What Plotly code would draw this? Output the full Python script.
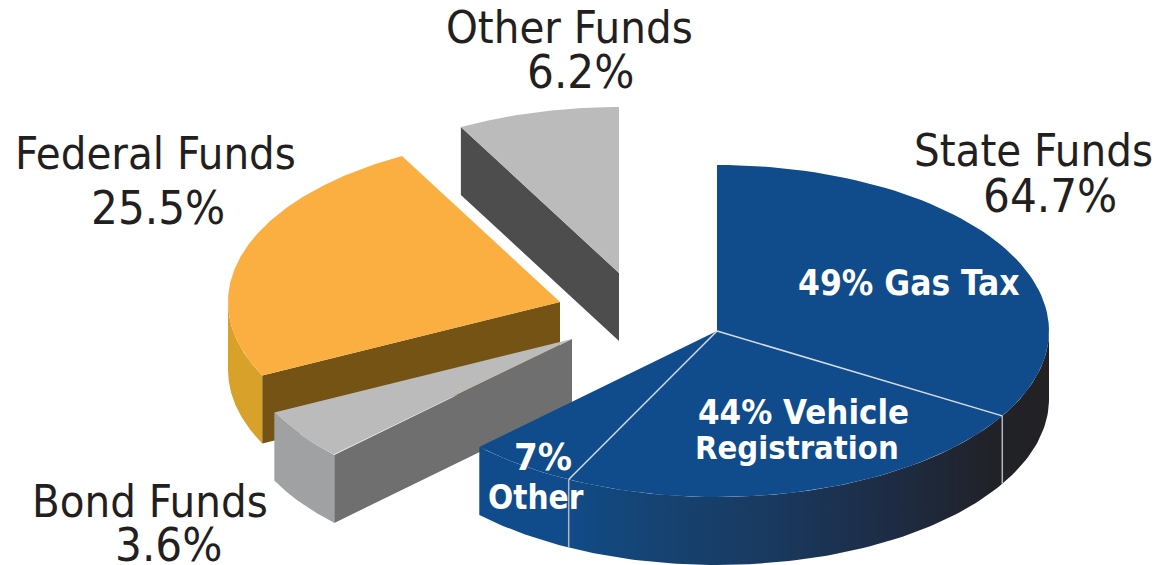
import numpy as np
import plotly.graph_objects as go

# ---- data ----
categories = ["State Funds", "Bond Funds", "Federal Funds", "Other Funds"]
printed_pct = [64.7, 3.6, 25.5, 6.2]          # percentages printed next to the slices
drawn_pct = [62.7, 5.0, 24.4, 7.9]            # share of the circle each slice visibly covers
state_parts = ["Gas Tax", "Vehicle Registration", "Other"]
state_printed = [49, 44, 7]                   # printed inside the State slice
state_drawn = [53.5, 38.0, 8.5]               # share of the State slice each part visibly covers

# ---- styling / layout ----
W, H = 1169, 565
CX, CY, RX, RY, DEPTH = 717, 331, 332, 166, 68
PULL = {"State Funds": (0, 0), "Bond Funds": (-145, 8),
        "Federal Funds": (-157, -29), "Other Funds": (-98, -58)}
FACE = {"State Funds": "#104C8B", "Bond Funds": "#BBBBBB",
        "Federal Funds": "#FAAF40", "Other Funds": "#BBBBBB"}
OUTER = {"Bond Funds": "#A0A1A3", "Federal Funds": "#D8A129"}
INNER = {"Bond Funds": "#6F6F6F", "Federal Funds": "#745315", "Other Funds": "#4D4D4D"}
TEXT = "#231F20"
FONT = "DejaVu Sans Condensed"


def pt(deg, pull=(0, 0), drop=0):
    a = np.radians(deg)
    return CX + pull[0] + RX * np.cos(a), CY + pull[1] - RY * np.sin(a) + drop


def arc(a0, a1, pull=(0, 0), drop=0):
    return pt(np.linspace(a0, a1, 120), pull, drop)


def polygon(xs, ys, color=None, gradient=None):
    kw = dict(fillgradient=gradient) if gradient else dict(fillcolor=color)
    return go.Scatter(x=xs, y=ys, mode="lines", fill="toself", line=dict(width=0),
                      hoverinfo="skip", showlegend=False, **kw)


def segment(p, q, color, width):
    return go.Scatter(x=[p[0], q[0]], y=[p[1], q[1]], mode="lines",
                      line=dict(color=color, width=width), hoverinfo="skip", showlegend=False)


# angles run clockwise from 12 o'clock
edges = 90 - np.concatenate([[0], np.cumsum(drawn_pct)]) * 3.6
span = {c: (edges[i], edges[i + 1]) for i, c in enumerate(categories)}

traces = []


def wedge_face(name):
    a0, a1 = span[name]
    p = PULL[name]
    xa, ya = arc(a0, a1, p)
    ax, ay = CX + p[0], CY + p[1]
    return polygon([ax, *xa, ax], [ay, *ya, ay], FACE[name])


def radial_wall(name, deg):
    p = PULL[name]
    ex, ey = pt(deg, p)
    ax, ay = CX + p[0], CY + p[1]
    return polygon([ex, ax, ax, ex, ex], [ey, ay, ay + DEPTH, ey + DEPTH, ey], INNER[name])


def rim_wall(a0, a1, pull=(0, 0), color=None, gradient=None):
    xt, yt = arc(a0, a1, pull)
    xb, yb = arc(a1, a0, pull, DEPTH)
    return polygon([*xt, *xb, xt[0]], [*yt, *yb, yt[0]], color, gradient)


# Other Funds: only its cut side and top show
traces += [radial_wall("Other Funds", span["Other Funds"][0]), wedge_face("Other Funds")]

# Federal Funds
fa0, fa1 = span["Federal Funds"]
traces += [rim_wall(fa0, -180, PULL["Federal Funds"], OUTER["Federal Funds"]),
           radial_wall("Federal Funds", fa0),
           wedge_face("Federal Funds")]

# Bond Funds
ba0, ba1 = span["Bond Funds"]
traces += [rim_wall(ba0, ba1, PULL["Bond Funds"], OUTER["Bond Funds"]),
           radial_wall("Bond Funds", ba0),
           wedge_face("Bond Funds")]

# State Funds: rim with a left-to-right shade
sa0, sa1 = span["State Funds"]
rim_shade = dict(type="horizontal", start=CX - 238, stop=CX + RX,
                 colorscale=[[0, "#104C8B"], [0.14, "#104C8B"], [0.3, "#154473"], [0.5, "#193A61"],
                             [0.72, "#1D2C44"], [0.9, "#212228"], [1, "#222224"]])
traces += [rim_wall(0, sa1, (0, 0), gradient=rim_shade), wedge_face("State Funds")]

# State Funds part dividers, on the top and down the rim
part_edges = sa0 - np.cumsum(state_drawn) / 100 * (sa0 - sa1)
for deg in part_edges[:-1]:
    traces.append(segment((CX, CY), pt(deg), "#D5DCE6", 1.5))
    traces.append(segment(pt(deg), pt(deg, drop=DEPTH), "#B4B8BE", 1.5))

fig = go.Figure(traces)


def label(x, y, text, size, color=TEXT, weight=400):
    fig.add_annotation(x=x, y=y, text=text, showarrow=False, xanchor="center", yanchor="middle",
                       font=dict(family=FONT, size=size, color=color, weight=weight))


TITLE_POS = {"State Funds": ((1033, 150), (1050, 195)),
             "Bond Funds": ((150, 501), (168, 544)),
             "Federal Funds": ((155, 153), (158, 207)),
             "Other Funds": ((569, 27), (580, 71))}
for name, pct in zip(categories, printed_pct):
    (x1, y1), (x2, y2) = TITLE_POS[name]
    label(x1, y1, name, 45)
    label(x2, y2, f"{pct}%", 47)

label(909, 283, f"{state_printed[0]}% {state_parts[0]}", 35, "white", 700)
veh, reg = state_parts[1].split(" ")
label(803, 412, f"{state_printed[1]}% {veh}", 34.5, "white", 700)
label(797, 448, reg, 32.5, "white", 700)
label(543, 457, f"{state_printed[2]}%", 38, "white", 700)
label(536, 497, state_parts[2], 33, "white", 700)

fig.update_layout(
    width=W, height=H, margin=dict(l=0, r=0, t=0, b=0),
    paper_bgcolor="white", plot_bgcolor="white", showlegend=False,
    xaxis=dict(range=[0, W], visible=False, fixedrange=True),
    yaxis=dict(range=[H, 0], visible=False, fixedrange=True),
)
fig.write_html("out.html", config=dict(displayModeBar=False),
               default_width=f"{W}px", default_height=f"{H}px",
               post_script="document.body.style.margin='0';document.body.style.overflow='hidden';")
